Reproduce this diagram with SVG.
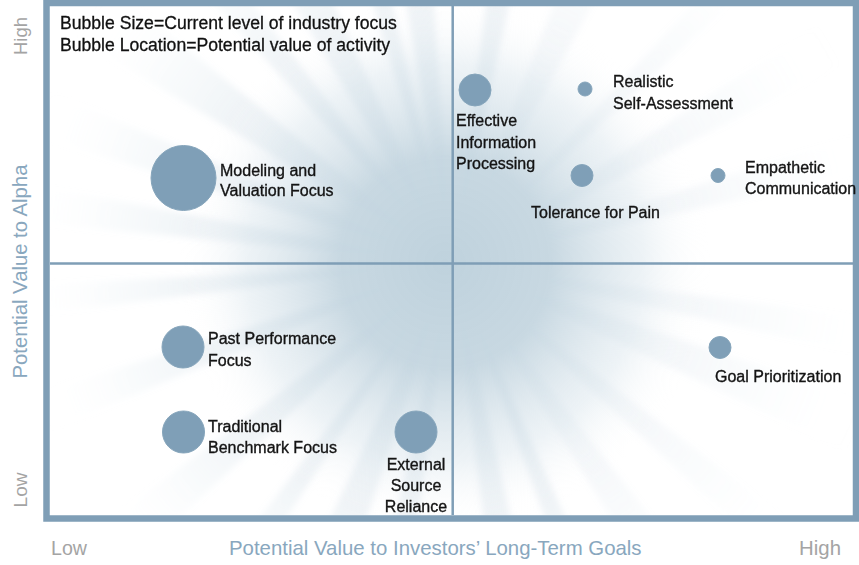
<svg xmlns="http://www.w3.org/2000/svg" width="859" height="565" viewBox="0 0 859 565">
<style>
.lbl{font-family:"Liberation Sans",Arial,sans-serif;font-size:16px;fill:#141414;stroke:#141414;stroke-width:0.35px}
.legend{font-family:"Liberation Sans",Arial,sans-serif;font-size:17.6px;fill:#111;stroke:#111;stroke-width:0.3px}
.bub{fill:#7f9fb7;stroke:#86a5bb;stroke-width:1}
.axg{font-family:"Liberation Sans",Arial,sans-serif;font-size:20px;fill:#a4a4a4}
.axb{font-family:"Liberation Sans",Arial,sans-serif;font-size:20.4px;fill:#89a7be}
.frame{fill:none;stroke:#7f9eb6;stroke-width:6.5}
.qline{stroke:#7f9eb6;stroke-width:2.5;fill:none}
.ray{fill:url(#rayGrad)}
.ray2{fill:url(#rayGrad);opacity:0.55}
</style>
<defs>
<clipPath id="plot"><rect x="50" y="6" width="805" height="509"/></clipPath>
<radialGradient id="glow" gradientUnits="userSpaceOnUse" cx="445" cy="263" r="265">
<stop offset="0" stop-color="#bfd2dd" stop-opacity="1"/>
<stop offset="0.4" stop-color="#c5d6e0" stop-opacity="0.95"/>
<stop offset="0.75" stop-color="#dfe9ef" stop-opacity="0.55"/>
<stop offset="1" stop-color="#ffffff" stop-opacity="0"/>
</radialGradient>
<radialGradient id="rayGrad" gradientUnits="userSpaceOnUse" cx="452" cy="263" r="440">
<stop offset="0" stop-color="#a8c1d1" stop-opacity="0.55"/>
<stop offset="0.4" stop-color="#aec5d4" stop-opacity="0.35"/>
<stop offset="0.75" stop-color="#c4d5e0" stop-opacity="0.12"/>
<stop offset="1" stop-color="#ffffff" stop-opacity="0"/>
</radialGradient>
<filter id="soft" x="-10%" y="-10%" width="120%" height="120%"><feGaussianBlur stdDeviation="3"/></filter>
</defs>
<rect x="0" y="0" width="859" height="565" fill="#ffffff"/>
<g id="background" clip-path="url(#plot)">
<rect x="50" y="6" width="805" height="509" fill="#ffffff"/>
<g filter="url(#soft)">
<polygon class="ray" points="452,263 -26.1,116.8 -8.3,67.6"/>
<polygon class="ray" points="452,263 23.4,5.5 63.4,-51.7"/>
<polygon class="ray" points="452,263 114.2,-105.6 147.6,-133.7"/>
<polygon class="ray" points="452,263 190.8,-163.3 244.7,-192"/>
<polygon class="ray" points="452,263 305.8,-215.2 339.5,-224.2"/>
<polygon class="ray" points="452,263 365.2,-229.4 417.1,-235.8"/>
<polygon class="ray" points="452,263 517.3,-232.7 560.2,-225.2"/>
<polygon class="ray2" points="452,263 635.3,-202.2 690.6,-176.4"/>
<polygon class="ray2" points="452,263 793,-102.7 817.7,-78"/>
<polygon class="ray2" points="452,263 871.4,-9.3 897.5,36"/>
<polygon class="ray2" points="452,263 928.9,112.6 940.2,154.8"/>
<polygon class="ray2" points="452,263 947.7,328.3 940.2,371.2"/>
<polygon class="ray2" points="452,263 926.2,421.7 903.3,478.3"/>
<polygon class="ray2" points="452,263 848.7,567.4 820.7,600.8"/>
<polygon class="ray2" points="452,263 759.9,657 717,687"/>
<polygon class="ray" points="452,263 655.4,719.8 623,732.9"/>
<polygon class="ray" points="452,263 564.5,750.2 512.9,759.3"/>
<polygon class="ray" points="452,263 386.7,758.7 343.8,751.2"/>
<polygon class="ray" points="452,263 293.4,737.2 236.8,714.3"/>
<polygon class="ray" points="452,263 179.7,682.4 151.1,662.3"/>
<polygon class="ray" points="452,263 86.3,604 52.7,563.9"/>
<polygon class="ray" points="452,263 -9.9,454.4 -24.9,413.4"/>
<polygon class="ray" points="452,263 -44.3,324 -47.3,289.2"/>
<polygon class="ray" points="452,263 -45.7,215.1 -39.6,171.9"/>
</g>
<circle cx="445" cy="263" r="265" fill="url(#glow)"/>
</g>
<g id="connectors">
<line class="qline" x1="452.7" y1="6" x2="452.7" y2="515"/>
<line class="qline" x1="50" y1="263.5" x2="855" y2="263.5"/>
</g>
<rect class="frame" x="46.5" y="3" width="809.5" height="515.5"/>
<g id="legend">
<text class="legend" x="60" y="29">Bubble Size=Current level of industry focus</text>
<text class="legend" x="60" y="51">Bubble Location=Potential value of activity</text>
</g>
<g id="node-modeling">
<circle class="bub" cx="183.5" cy="178" r="32.5"/>
<text class="lbl" x="220" y="176">Modeling and</text>
<text class="lbl" x="220" y="196">Valuation Focus</text>
</g>
<g id="node-effective">
<circle class="bub" cx="475" cy="90" r="16"/>
<text class="lbl" x="456" y="126">Effective</text>
<text class="lbl" x="456" y="147.5">Information</text>
<text class="lbl" x="456" y="169">Processing</text>
</g>
<g id="node-realistic">
<circle class="bub" cx="585" cy="89" r="7"/>
<text class="lbl" x="613" y="87">Realistic</text>
<text class="lbl" x="613" y="108.5">Self-Assessment</text>
</g>
<g id="node-tolerance">
<circle class="bub" cx="582" cy="175.5" r="11"/>
<text class="lbl" x="531" y="217.5">Tolerance for Pain</text>
</g>
<g id="node-empathetic">
<circle class="bub" cx="718" cy="175.5" r="7"/>
<text class="lbl" x="745" y="172.5">Empathetic</text>
<text class="lbl" x="745" y="193.5">Communication</text>
</g>
<g id="node-past">
<circle class="bub" cx="183" cy="347" r="21"/>
<text class="lbl" x="208" y="344">Past Performance</text>
<text class="lbl" x="208" y="365.5">Focus</text>
</g>
<g id="node-goal">
<circle class="bub" cx="720" cy="347.5" r="11"/>
<text class="lbl" x="715" y="381.5">Goal Prioritization</text>
</g>
<g id="node-traditional">
<circle class="bub" cx="183.5" cy="432" r="21"/>
<text class="lbl" x="208" y="432">Traditional</text>
<text class="lbl" x="208" y="453">Benchmark Focus</text>
</g>
<g id="node-external">
<circle class="bub" cx="416" cy="432" r="21"/>
<text class="lbl" x="416" y="470" text-anchor="middle">External</text>
<text class="lbl" x="416" y="491" text-anchor="middle">Source</text>
<text class="lbl" x="416" y="512" text-anchor="middle">Reliance</text>
</g>
<g id="axes">
<text class="axg" transform="translate(27,36) rotate(-90)" text-anchor="middle" style="font-size:18.5px">High</text>
<text class="axg" transform="translate(27,490) rotate(-90)" text-anchor="middle" style="font-size:19px">Low</text>
<text class="axb" transform="translate(27,271.5) rotate(-90)" text-anchor="middle" style="font-size:20.3px">Potential Value to Alpha</text>
<text class="axg" x="51" y="555" style="font-size:19.6px">Low</text>
<text class="axb" x="229" y="555">Potential Value to Investors’ Long-Term Goals</text>
<text class="axg" x="841" y="555" text-anchor="end" style="font-size:20.4px">High</text>
</g>
</svg>
